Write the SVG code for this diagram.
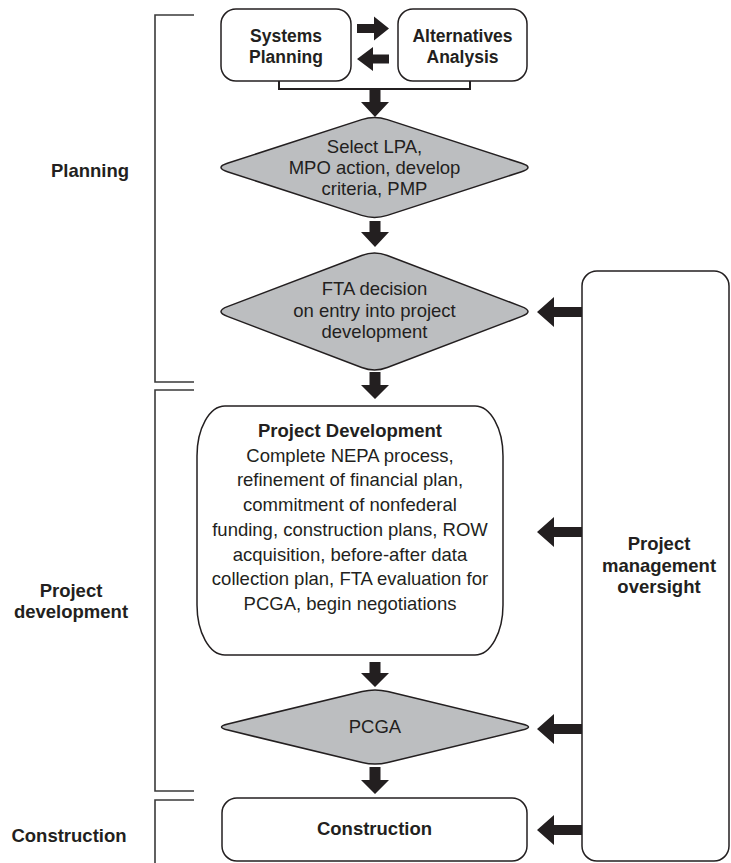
<svg xmlns="http://www.w3.org/2000/svg" width="731" height="863" viewBox="0 0 731 863">
<style>
text{font-family:"Liberation Sans",Arial,sans-serif;font-size:18.5px;fill:#231f20;text-anchor:middle}
.b{font-weight:bold}
.s{font-size:17.5px}
.box{fill:#fff;stroke:#231f20;stroke-width:1.5}
.dia{fill:#bcbec0;stroke:#231f20;stroke-width:1.5}
.arr{fill:#231f20}
.br{fill:none;stroke:#3a3a3a;stroke-width:1.6}
</style>
<rect width="731" height="863" fill="#fff"/>
<g id="brackets">
<polyline class="br" points="194,15 155,15 155,382 194,382"/>
<polyline class="br" points="194,390 155,390 155,791 194,791"/>
<polyline class="br" points="194,800 155,800 155,863"/>
</g>
<g id="phase-labels">
<text class="b" x="90" y="177">Planning</text>
<text class="b" x="71" y="597">Project</text>
<text class="b" x="71" y="618">development</text>
<text class="b" x="69" y="842">Construction</text>
</g>
<g id="connectors">
<polyline fill="none" stroke="#231f20" stroke-width="2" points="279,81 279,89 470,89 470,81"/>
<polygon class="arr" points="357,24 374,24 374,16.5 389,28.5 374,40.5 374,33 357,33"/>
<polygon class="arr" points="389,54.5 373,54.5 373,47 357,59 373,71 373,63.5 389,63.5"/>
<polygon class="arr" points="369.5,89 380.5,89 380.5,102 389,102 375,117 361,102 369.5,102"/>
<polygon class="arr" points="369.5,221 380.5,221 380.5,232 389,232 375,247 361,232 369.5,232"/>
<polygon class="arr" points="369.5,372 380.5,372 380.5,385 389,385 375,399 361,385 369.5,385"/>
<polygon class="arr" points="369.5,662 380.5,662 380.5,673 389,673 375,687 361,673 369.5,673"/>
<polygon class="arr" points="369.5,767 380.5,767 380.5,780 389,780 375,794 361,780 369.5,780"/>
<polygon class="arr" points="582,307 554,307 554,297 537,312 554,327 554,317 582,317"/>
<polygon class="arr" points="582,527 554,527 554,517 537,532 554,547 554,537 582,537"/>
<polygon class="arr" points="582,724 554,724 554,714 537,729 554,744 554,734 582,734"/>
<polygon class="arr" points="582,825 554,825 554,815 537,830 554,845 554,835 582,835"/>
</g>
<g id="systems-planning">
<rect class="box" x="221" y="9" width="130" height="72" rx="15"/>
<text class="b s" x="286" y="42">Systems</text>
<text class="b s" x="286" y="63">Planning</text>
</g>
<g id="alternatives-analysis">
<rect class="box" x="398" y="9" width="129" height="72" rx="15"/>
<text class="b s" x="462.5" y="42">Alternatives</text>
<text class="b s" x="462.5" y="63">Analysis</text>
</g>
<g id="select-lpa">
<path class="dia" d="M387.3,119.6 L521.6,163.3 Q534.4,167.5 521.6,171.7 L387.3,215.4 Q374.5,219.6 361.7,215.4 L227.4,171.7 Q214.6,167.5 227.4,163.3 L361.7,119.6 Q374.5,115.4 387.3,119.6 Z"/>
<text x="374.5" y="153">Select LPA,</text>
<text x="374.5" y="174">MPO action, develop</text>
<text x="374.5" y="195">criteria, PMP</text>
</g>
<g id="fta-decision">
<path class="dia" d="M387.3,255.5 L521.6,306.6 Q534.4,311.5 521.6,316.4 L387.3,367.5 Q374.5,372.4 361.7,367.5 L227.4,316.4 Q214.6,311.5 227.4,306.6 L361.7,255.5 Q374.5,250.6 387.3,255.5 Z"/>
<text x="374.5" y="295">FTA decision</text>
<text x="374.5" y="317">on entry into project</text>
<text x="374.5" y="338">development</text>
</g>
<g id="project-development">
<rect class="box" x="197" y="406" width="306" height="249" rx="28" ry="50"/>
<text class="b" x="350" y="437">Project Development</text>
<text x="350" y="461.7">Complete NEPA process,</text>
<text x="350" y="486.4">refinement of financial plan,</text>
<text x="350" y="511.1">commitment of nonfederal</text>
<text x="350" y="535.8">funding, construction plans, ROW</text>
<text x="350" y="560.5">acquisition, before-after data</text>
<text x="350" y="585.2">collection plan, FTA evaluation for</text>
<text x="350" y="609.9">PCGA, begin negotiations</text>
</g>
<g id="pcga">
<path class="dia" d="M387.8,691.6 L522.1,723.9 Q534.9,727 522.1,730.1 L387.8,762.4 Q375,765.5 362.2,762.4 L227.9,730.1 Q215.1,727 227.9,723.9 L362.2,691.6 Q375,688.5 387.8,691.6 Z"/>
<text x="375" y="733">PCGA</text>
</g>
<g id="construction">
<rect class="box" x="222" y="798" width="305" height="63" rx="15"/>
<text class="b" x="374.5" y="835">Construction</text>
</g>
<g id="oversight">
<rect class="box" x="582" y="271" width="147" height="590" rx="15"/>
<text class="b" x="659" y="550">Project</text>
<text class="b" x="659" y="571.5">management</text>
<text class="b" x="659" y="593">oversight</text>
</g>
</svg>
